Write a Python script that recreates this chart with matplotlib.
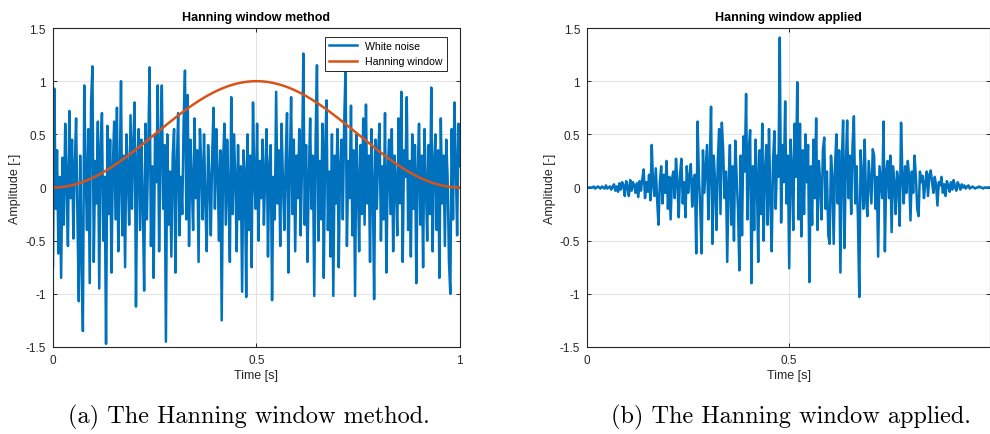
import numpy as np
import matplotlib
matplotlib.use("Agg")
import matplotlib.pyplot as plt

# ---------------- data ----------------
white_noise = [
    -0.75, 0.93, -0.20, 0.35, -0.62, 0.10, -0.85, 0.28, -0.35, 0.60, 0.05, -0.55, 0.72, -0.10, 0.45, -0.48, 0.20, 0.65, -0.30, -1.07,
    0.30, -0.65, -1.35, 0.96, 0.15, -0.40, 0.55, -0.90, 0.80, 1.14, -0.70, 0.25, -0.15, 0.62, -0.95, 0.38, 0.70, -0.50, 0.10, -1.47,
    0.58, -0.25, 0.45, -0.80, 0.20, 0.62, -0.30, 0.75, -0.60, 0.05, 1.00, -0.45, 0.30, -0.75, 0.50, 0.15, -0.35, 0.68, -0.20, 0.40,
    0.80, -1.12, 0.25, 0.55, -0.40, 0.45, -0.15, -0.97, 0.60, -0.30, 0.35, 1.13, -0.55, 0.20, -0.85, 0.50, 0.05, 0.96, -0.60, 0.35,
    0.96, -0.20, 0.40, -1.45, 0.50, -0.35, 0.15, -0.65, 0.30, 0.55, -0.80, 0.20, 0.70, -0.45, 0.10, -0.25, 0.60, 1.10, -0.30, 0.87,
    -0.55, 0.45, 0.05, -0.40, 0.65, -0.10, 0.35, -0.70, 0.55, 0.20, -0.30, 0.50, -0.15, -0.60, 0.40, 0.10, -0.45, 0.30, 0.75, -0.20,
    0.55, 0.15, -0.50, 0.35, -1.25, 0.25, 0.60, -0.35, 0.45, -0.05, -0.70, 0.85, -0.25, 0.50, 0.10, -0.60, 0.40, -0.30, 0.20, -0.98,
    0.35, 0.15, -1.03, 0.50, -0.40, 0.30, -0.75, 0.80, 0.05, -0.20, 0.60, -0.50, 0.25, -0.10, 0.45, -0.35, 0.15, 0.55, -0.65, 0.20,
    0.40, -1.06, 0.10, -0.30, 0.90, -0.15, 0.35, -0.55, 0.60, 0.05, -0.40, 0.25, 0.70, -0.80, 0.15, 0.85, -0.25, 0.45, -0.60, 0.30,
    -0.10, 0.55, -0.45, 0.20, 1.26, -0.35, 0.40, -0.70, 0.10, 0.65, -0.20, 0.30, -1.02, 0.45, 1.15, -0.50, 0.25, -0.30, 0.60, -0.85,
    0.35, 0.82, -0.40, 0.15, -0.65, 0.50, -1.02, 0.30, -0.15, 0.55, -0.75, 0.20, 0.45, -0.30, 0.60, 1.13, -0.55, 0.25, -0.10, 0.77,
    -0.45, 0.35, -1.02, 0.50, 0.10, -0.60, 0.40, -0.25, 0.65, -0.35, 0.78, -0.15, 0.30, -0.70, 0.55, 0.05, -1.05, 0.45, -0.20, 0.35,
    0.60, -0.50, 0.20, -0.30, 0.70, -0.80, 0.15, 0.45, -0.25, 0.55, -0.60, 0.30, 0.05, -0.45, 0.65, -0.15, 0.90, -0.70, 0.35, 0.10,
    0.85, -0.40, 0.25, -0.65, 0.50, -0.20, 0.40, -0.90, 0.15, 0.60, -0.35, 0.30, -0.75, 0.55, 0.05, -0.50, 0.40, -0.25, 0.94, -0.60,
    0.20, 0.50, -0.40, 0.35, -0.85, 0.65, -0.15, 0.30, -0.55, 0.45, 0.10, -0.70, -1.00, 0.55, -0.30, 0.80, 0.25, -0.45, 0.60, 0.20,
]

windowed_noise = [
    0.00, 0.00, 0.00, 0.00, 0.00, 0.01, -0.01, 0.00, 0.01, 0.00, -0.01, 0.01, 0.00, -0.01, 0.02, -0.01, 0.00, 0.01, -0.02, 0.01,
    0.03, -0.03, 0.01, -0.04, 0.04, -0.02, 0.05, 0.02, -0.08, 0.06, 0.01, -0.08, 0.07, -0.03, 0.05, 0.02, -0.05, 0.04, -0.09, 0.06,
    -0.03, 0.08, 0.17, -0.10, 0.05, -0.04, 0.12, -0.12, 0.40, 0.02, -0.08, 0.18, -0.12, -0.35, 0.05, 0.20, -0.15, 0.12, -0.05, 0.25,
    -0.20, 0.10, -0.30, 0.08, 0.15, -0.10, 0.27, 0.05, -0.28, 0.12, 0.27, -0.15, 0.05, -0.28, 0.20, -0.05, 0.10, 0.22, -0.18, 0.08,
    0.12, -0.62, 0.62, 0.10, -0.20, -0.62, 0.35, -0.05, 0.18, 0.40, -0.30, 0.20, 0.76, -0.53, 0.30, 0.05, -0.40, 0.25, 0.55, -0.25,
    0.61, 0.35, -0.10, 0.15, -0.70, 0.05, 0.40, -0.35, 0.20, -0.50, 0.44, 0.10, -0.20, -0.78, 0.30, -0.45, 0.48, 0.15, 0.88, -0.30,
    0.35, 0.54, -0.90, 0.20, -0.40, 0.45, 0.10, -0.70, 0.35, -0.25, 0.60, -0.50, 0.15, 0.40, -0.35, 0.55, -0.10, -0.60, 0.25, 0.53,
    -0.20, 0.30, 0.10, 1.41, -0.33, 0.40, 0.05, 0.81, -0.15, 0.30, -0.76, 0.45, 0.20, -0.40, 0.60, 0.10, 0.99, -0.30, 0.60, -0.46,
    0.35, -0.25, 0.50, 0.05, 0.40, -0.89, 0.20, -0.35, 0.45, -0.10, 0.65, -0.40, 0.25, 0.05, -0.30, 0.35, 0.47, -0.20, 0.15, -0.45,
    -0.53, 0.30, 0.10, -0.53, 0.20, 0.50, -0.15, 0.35, -0.80, 0.25, 0.63, -0.57, 0.20, 0.63, -0.10, 0.30, -0.25, 0.40, 0.67, -0.15,
    0.20, -0.30, -1.03, 0.35, 0.10, -0.20, 0.45, -0.10, -0.27, 0.25, 0.05, -0.15, 0.36, 0.30, -0.20, 0.10, -0.65, 0.20, 0.05, -0.10,
    0.62, -0.60, 0.15, 0.25, -0.10, 0.30, -0.42, 0.20, 0.05, -0.25, 0.15, 0.05, -0.36, 0.61, 0.10, -0.15, 0.20, -0.05, 0.25, 0.10,
    -0.31, 0.15, -0.05, 0.30, 0.10, -0.20, -0.27, 0.15, 0.05, 0.11, -0.10, 0.05, 0.15, -0.08, 0.12, 0.16, 0.05, -0.05, 0.10, 0.02,
    -0.17, 0.05, 0.02, 0.10, -0.05, 0.03, -0.08, 0.06, 0.02, -0.04, 0.05, -0.02, 0.07, 0.01, -0.03, 0.05, 0.02, -0.02, 0.03, 0.00,
    0.02, -0.01, 0.01, 0.02, -0.01, 0.00, 0.01, 0.00, -0.01, 0.00, 0.00, 0.01, 0.00, 0.00, -0.01, 0.00, 0.00, 0.00, 0.00, 0.00,
]

titles = ["Hanning window method", "Hanning window applied"]
captions = ["(a) The Hanning window method.", "(b) The Hanning window applied."]
legend_labels = ["White noise", "Hanning window"]
y_ticks = [-1.5, -1, -0.5, 0, 0.5, 1, 1.5]
y_ticklabels = ["-1.5", "-1", "-0.5", "0", "0.5", "1", "1.5"]

# ---------------- derived ----------------
t_left = np.linspace(0, 1, len(white_noise))
t_win = np.linspace(0, 1, 400)
hann = np.sin(np.pi * t_win) ** 2
n_r = len(windowed_noise)
t_right = np.arange(n_r) / n_r

BLUE = "#0072BD"
ORANGE = "#D95319"
AX_COL = "#262626"
SANS = "Liberation Sans"

plt.rcParams["font.family"] = [SANS, "DejaVu Sans"]

fig = plt.figure(figsize=(9.9, 4.35), dpi=100)
ax1 = fig.add_axes([0.0535, 0.2, 0.411, 0.7333])
ax2 = fig.add_axes([0.593, 0.2, 0.407, 0.7333])


def style(ax, xticks, xlim):
    ax.set_xlim(*xlim)
    ax.set_ylim(-1.5, 1.5)
    ax.set_xticks(xticks)
    ax.set_xticklabels([("%g" % v) for v in xticks])
    ax.set_yticks(y_ticks)
    ax.set_yticklabels(y_ticklabels)
    ax.grid(True, color="#e3e3e3", linewidth=0.8)
    ax.set_axisbelow(True)
    ax.tick_params(direction="in", length=3, width=0.7, labelsize=8.5,
                   colors=AX_COL, top=True, right=True, pad=5)
    for sp in ax.spines.values():
        sp.set_color(AX_COL)
        sp.set_linewidth(0.8)
    ax.set_xlabel("Time [s]", fontsize=9, color=AX_COL, labelpad=2)
    ax.set_ylabel("Amplitude [-]", fontsize=9, color=AX_COL, labelpad=3)


ax1.plot(t_left, white_noise, color=BLUE, lw=1.8, label=legend_labels[0])
ax1.plot(t_win, hann, color=ORANGE, lw=1.8, label=legend_labels[1])
style(ax1, [0, 0.5, 1], (0, 1))
ax1.set_title(titles[0], fontsize=9, fontweight="bold", color="black", pad=6)
leg = ax1.legend(loc="upper right", fontsize=7.6, fancybox=False, framealpha=1,
                 edgecolor=AX_COL, borderpad=0.4, handlelength=2.6,
                 borderaxespad=0, bbox_to_anchor=(0.968, 0.972))
leg.get_frame().set_linewidth(0.7)

ax2.plot(t_right, windowed_noise, color=BLUE, lw=1.8)
style(ax2, [0, 0.5], (0, t_right[-1]))
ax2.set_title(titles[1], fontsize=9, fontweight="bold", color="black", pad=6)

fig.text(0.251, 0.04, captions[0], ha="center", va="center",
         family=["cmr10", "DejaVu Serif"], fontsize=17.5)
fig.text(0.799, 0.04, captions[1], ha="center", va="center",
         family=["cmr10", "DejaVu Serif"], fontsize=17.5)

fig.savefig("out.png", dpi=100)
